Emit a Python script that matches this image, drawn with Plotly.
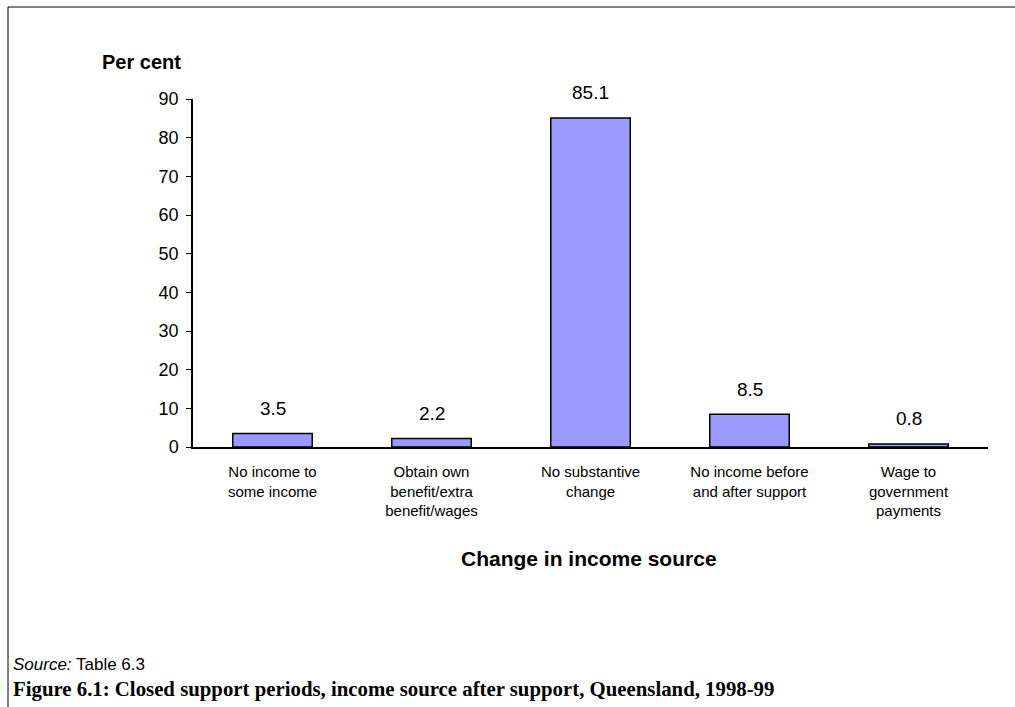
import plotly.graph_objects as go

categories = ["No income to<br>some income",
              "Obtain own<br>benefit/extra<br>benefit/wages",
              "No substantive<br>change",
              "No income before<br>and after support",
              "Wage to<br>government<br>payments"]
values = [3.5, 2.2, 85.1, 8.5, 0.8]
value_labels = ["3.5", "2.2", "85.1", "8.5", "0.8"]
y_ticks = [0, 10, 20, 30, 40, 50, 60, 70, 80, 90]

W, H = 1015, 707
L, R, T, B = 193, 988, 99, 447  # plot area pixels
pw, ph = R - L, B - T

def px(x):
    return (x - L) / pw

def py(y):
    return (B - y) / ph

SANS = "Liberation Sans, Arial, sans-serif"

fig = go.Figure()
fig.add_trace(go.Bar(
    x=categories, y=values,
    marker=dict(color="#9999FF", line=dict(color="black", width=1.5)),
    hoverinfo="skip",
))

annotations = []
for c, v, t in zip(categories, values, value_labels):
    annotations.append(dict(x=c, y=v, xref="x", yref="y", text=t, showarrow=False,
                            yanchor="middle", yshift=25,
                            font=dict(family=SANS, size=19, color="black")))

annotations += [
    dict(x=px(183), y=py(62), xref="paper", yref="paper", xanchor="right", yanchor="middle",
         text="<b>Per cent</b>", showarrow=False,
         font=dict(family=SANS, size=20, color="black")),
    dict(x=px(589), y=py(558), xref="paper", yref="paper", xanchor="center", yanchor="middle",
         text="<b>Change in income source</b>", showarrow=False,
         font=dict(family=SANS, size=21, color="black")),
    dict(x=px(11), y=py(664), xref="paper", yref="paper", xanchor="left", yanchor="middle",
         text="<i>Source:</i> Table 6.3", showarrow=False,
         font=dict(family=SANS, size=17, color="black")),
    dict(x=px(11), y=py(689), xref="paper", yref="paper", xanchor="left", yanchor="middle",
         text="<b>Figure 6.1: Closed support periods, income source after support, Queensland, 1998-99</b>",
         showarrow=False,
         font=dict(family="Liberation Serif, Times New Roman, serif", size=20.8, color="black")),
]

shapes = [
    dict(type="line", xref="paper", yref="paper", x0=px(8), x1=px(1016), y0=py(7), y1=py(7),
         line=dict(color="black", width=1)),
    dict(type="line", xref="paper", yref="paper", x0=px(8), x1=px(8), y0=py(7), y1=py(708),
         line=dict(color="black", width=1)),
]

fig.update_layout(
    width=W, height=H,
    margin=dict(l=L, r=W - R, t=T, b=H - B, pad=0),
    paper_bgcolor="white", plot_bgcolor="white",
    bargap=0.5,
    showlegend=False,
    annotations=annotations,
    shapes=shapes,
    xaxis=dict(showline=True, linecolor="black", linewidth=2, ticks="", showgrid=False,
               tickfont=dict(family=SANS, size=15, color="black"),
               ticklabelstandoff=10,
               fixedrange=True),
    yaxis=dict(range=[0, 90], tickvals=y_ticks, showline=True, linecolor="black", linewidth=1.5,
               ticks="outside", ticklen=5, tickcolor="black", showgrid=False, zeroline=False,
               tickfont=dict(family=SANS, size=18, color="black"),
               ticklabelstandoff=4,
               fixedrange=True),
)

fig.write_html("out.html", config={"displayModeBar": False},
               post_script="document.body.style.margin='0px';document.body.style.overflow='hidden';")
